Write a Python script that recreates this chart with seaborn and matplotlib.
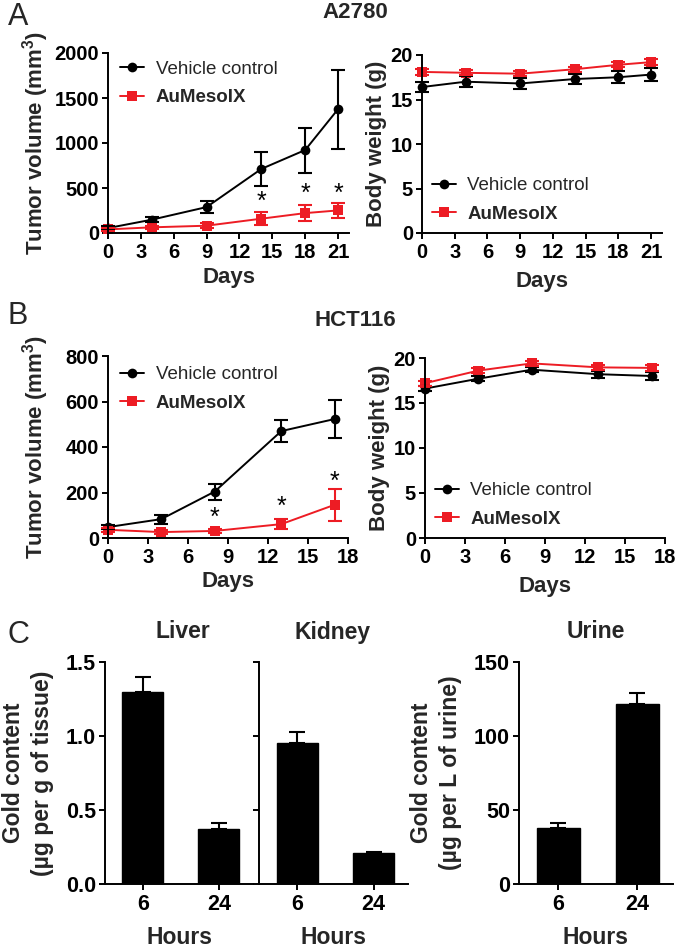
import numpy as np
import pandas as pd
import matplotlib
matplotlib.use("Agg")
import matplotlib.pyplot as plt
import seaborn as sns

# ---------------- data ----------------
groups = ["Vehicle control", "AuMesoIX"]

a_days = [0, 4, 9, 14, 18, 21]
a_tv_veh = [55, 148, 288, 712, 922, 1376]
a_tv_veh_err = [20, 25, 65, 190, 250, 440]
a_tv_au = [40, 63, 81, 159, 221, 251]
a_tv_au_err = [15, 20, 25, 70, 90, 85]
a_bw_veh = [16.4, 17.0, 16.8, 17.3, 17.5, 17.8]
a_bw_veh_err = [0.6, 0.6, 0.6, 0.6, 0.7, 0.7]
a_bw_au = [18.1, 18.0, 17.9, 18.4, 18.9, 19.2]
a_bw_au_err = [0.3, 0.3, 0.3, 0.3, 0.3, 0.3]
a_star_days = [14, 18, 21]
a_star_y = [350, 430, 440]

b_days = [0, 4, 8, 13, 17]
b_tv_veh = [48, 83, 204, 470, 523]
b_tv_veh_err = [10, 20, 35, 50, 85]
b_tv_au = [36, 26, 31, 61, 146]
b_tv_au_err = [8, 8, 8, 22, 70]
b_bw_veh = [16.6, 17.7, 18.7, 18.2, 18.0]
b_bw_veh_err = [0.3, 0.3, 0.3, 0.4, 0.4]
b_bw_au = [17.2, 18.6, 19.4, 18.96, 18.9]
b_bw_au_err = [0.3, 0.3, 0.3, 0.3, 0.3]
b_star_days = [8, 13, 17]
b_star_y = [88, 139, 248]

hours = ["6", "24"]
liver = [1.30, 0.375]
liver_err = [0.10, 0.04]
kidney = [0.952, 0.207]
kidney_err = [0.072, 0.007]
urine = [37.9, 121.8]
urine_err = [3.1, 7.0]

RED = "#ED1C24"

# ---------------- style ----------------
sns.set_theme(style="ticks")
plt.rcParams["font.family"] = ["Liberation Sans", "DejaVu Sans"]
plt.rcParams.update({
    "mathtext.fontset": "custom",
    "mathtext.rm": "Liberation Sans",
    "mathtext.bf": "Liberation Sans:bold",
    "axes.linewidth": 1.4,
    "xtick.major.width": 1.4, "ytick.major.width": 1.4,
    "xtick.major.size": 4.5, "ytick.major.size": 4.5,
    "xtick.major.pad": 3, "ytick.major.pad": 2,
    "xtick.labelsize": 14.5, "ytick.labelsize": 14.5,
    "axes.edgecolor": "black",
    "xtick.color": "black", "ytick.color": "black",
})

W, H = 677, 948
fig = plt.figure(figsize=(W / 100, H / 100), dpi=100)


def add_ax(l, t, r, b):
    return fig.add_axes([l / W, 1 - b / H, (r - l) / W, (b - t) / H])


def style_ticks(ax):
    for lab in ax.get_xticklabels() + ax.get_yticklabels():
        lab.set_fontweight("bold")
    sns.despine(ax=ax)


def growth(ax, days, veh, veh_err, au, au_err, xmax, xticks, ymax, yticks,
           ylabel, ylab_x, xlab_y, leg_xy, star_days=None, star_y=None):
    df = pd.DataFrame({
        "Days": list(days) * 2,
        "value": list(veh) + list(au),
        "group": [groups[0]] * len(days) + [groups[1]] * len(days),
    })
    sns.lineplot(data=df, x="Days", y="value", hue="group", style="group",
                 hue_order=groups, style_order=groups,
                 markers={groups[0]: "o", groups[1]: "s"}, dashes=False,
                 palette={groups[0]: "black", groups[1]: RED},
                 markersize=7, markeredgewidth=0, linewidth=1.4, ax=ax)
    ax.errorbar(days, veh, yerr=veh_err, fmt="none", ecolor="black",
                elinewidth=1.5, capsize=5, capthick=1.5)
    ax.errorbar(days, au, yerr=au_err, fmt="none", ecolor=RED,
                elinewidth=1.5, capsize=5, capthick=1.5)
    if star_days is not None:
        for d, y in zip(star_days, star_y):
            ax.text(d, y, "*", ha="center", va="center", fontsize=18,
                    color="black")
    ax.set_xlim(0, xmax)
    ax.set_xticks(xticks)
    ax.set_ylim(0, ymax)
    ax.set_yticks(yticks)
    for art in ax.get_children():
        try:
            art.set_clip_on(False)
        except Exception:
            pass
    ax.set_xlabel("Days", fontsize=16, fontweight="bold")
    ax.set_ylabel(ylabel, fontsize=16, fontweight="bold")
    ax.yaxis.label.set_verticalalignment("center")
    ax.xaxis.label.set_verticalalignment("center")
    ax.yaxis.set_label_coords(ylab_x, 0.5)
    ax.xaxis.set_label_coords(0.5, xlab_y)
    handles, labels = ax.get_legend_handles_labels()
    leg = ax.legend(handles, labels, loc="center left",
                    bbox_to_anchor=leg_xy, frameon=False, fontsize=13.5,
                    handlelength=1.3, handletextpad=0.6, labelspacing=0.6,
                    borderpad=0, borderaxespad=0)
    leg.get_texts()[1].set_fontweight("bold")
    style_ticks(ax)


TV_LABEL = r"Tumor volume (mm$^{\mathbf{3}}$)"

# ---------------- Panel A ----------------
axA1 = add_ax(108, 53, 349, 233)
growth(axA1, a_days, a_tv_veh, a_tv_veh_err, a_tv_au, a_tv_au_err,
       22, range(0, 22, 3), 2000, range(0, 2001, 500),
       TV_LABEL, -0.30, -0.25, (0.05, 0.83),
       a_star_days, a_star_y)

axA2 = add_ax(422, 55, 662, 233)
growth(axA2, a_days, a_bw_veh, a_bw_veh_err, a_bw_au, a_bw_au_err,
       22, range(0, 22, 3), 20, range(0, 21, 5),
       "Body weight (g)", -0.19, -0.27, (0.04, 0.185))

# ---------------- Panel B ----------------
axB1 = add_ax(108, 356, 348, 538)
growth(axB1, b_days, b_tv_veh, b_tv_veh_err, b_tv_au, b_tv_au_err,
       18, range(0, 19, 3), 800, range(0, 801, 200),
       TV_LABEL, -0.30, -0.24, (0.05, 0.82),
       b_star_days, b_star_y)

axB2 = add_ax(425, 358, 665, 538)
growth(axB2, b_days, b_bw_veh, b_bw_veh_err, b_bw_au, b_bw_au_err,
       18, range(0, 19, 3), 20, range(0, 21, 5),
       "Body weight (g)", -0.19, -0.27, (0.04, 0.183))


# ---------------- Panel C ----------------
def bars(ax, vals, errs, ymax, yticks, yticklabels, ylabel, ylab_x):
    sns.barplot(x=hours, y=vals, order=hours, color="black", saturation=1,
                width=0.54, edgecolor="black", ax=ax)
    ax.errorbar(range(len(hours)), vals, yerr=[[0] * len(vals), errs],
                fmt="none", ecolor="black", elinewidth=1.5, capsize=6,
                capthick=1.5)
    ax.set_xlim(-0.5, 1.45)
    ax.set_ylim(0, ymax)
    ax.set_yticks(yticks)
    ax.set_yticklabels(yticklabels)
    ax.tick_params(labelsize=15.5)
    ax.set_xlabel("Hours", fontsize=16.5, fontweight="bold")
    ax.xaxis.label.set_verticalalignment("center")
    ax.xaxis.set_label_coords(0.5, -0.24)
    if ylabel:
        ax.set_ylabel(ylabel, fontsize=16.5, fontweight="bold",
                      linespacing=1.3)
        ax.yaxis.label.set_verticalalignment("center")
        ax.yaxis.set_label_coords(ylab_x, 0.5)
    else:
        ax.set_ylabel("")
    style_ticks(ax)


axC1 = add_ax(105, 662, 253, 884)
bars(axC1, liver, liver_err, 1.5, [0.0, 0.5, 1.0, 1.5],
     ["0.0", "0.5", "1.0", "1.5"],
     "Gold content\n(µg per g of tissue)", -0.52)

axC2 = add_ax(259, 662, 408, 884)
bars(axC2, kidney, kidney_err, 1.5, [0.0, 0.5, 1.0, 1.5],
     [], None, 0)

axC3 = add_ax(519, 662, 673, 884)
bars(axC3, urine, urine_err, 150, [0, 50, 100, 150],
     ["0", "50", "100", "150"],
     "Gold content\n(µg per L of urine)", -0.54)

# ---------------- titles & panel letters ----------------
fig.text(355 / W, 1 - 13 / H, "A2780", ha="center", va="center",
         fontsize=16, fontweight="bold")
fig.text(355 / W, 1 - 321 / H, "HCT116", ha="center", va="center",
         fontsize=16, fontweight="bold")
fig.text(183 / W, 1 - 632 / H, "Liver", ha="center", va="center",
         fontsize=16.5, fontweight="bold")
fig.text(333 / W, 1 - 632 / H, "Kidney", ha="center", va="center",
         fontsize=16.5, fontweight="bold")
fig.text(596 / W, 1 - 632 / H, "Urine", ha="center", va="center",
         fontsize=16.5, fontweight="bold")
fig.text(18 / W, 1 - 17 / H, "A", ha="center", va="center", fontsize=22)
fig.text(18 / W, 1 - 316 / H, "B", ha="center", va="center", fontsize=22)
fig.text(18 / W, 1 - 635 / H, "C", ha="center", va="center", fontsize=22)

fig.savefig("out.png", dpi=100, facecolor="white")
